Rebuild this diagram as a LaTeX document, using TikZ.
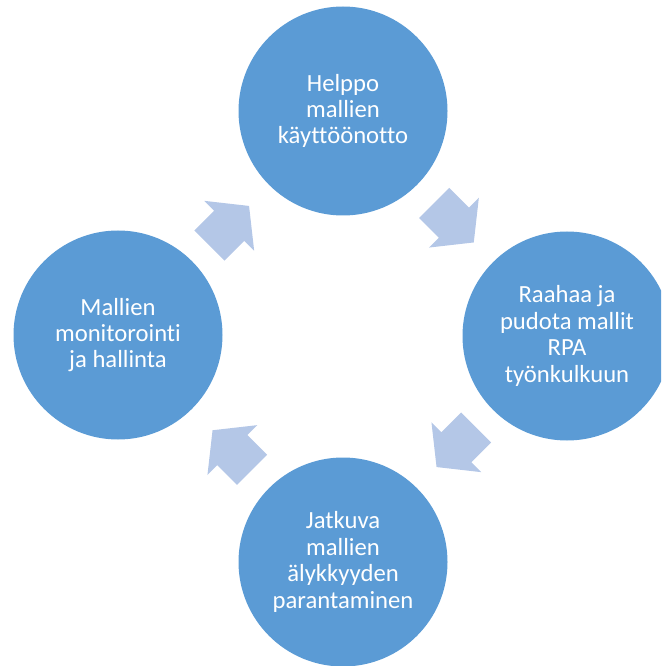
\documentclass[tikz,border=0pt]{standalone}
\usepackage{fontspec}
\setmainfont{Carlito}[Ligatures=NoCommon]
\usetikzlibrary{shapes.arrows}
\definecolor{stageblue}{HTML}{5B9BD5}
\definecolor{arrowblue}{HTML}{B4C7E7}
\begin{document}
\begin{tikzpicture}[
    x=0.75pt, y=-0.75pt,
    stage/.style={shape=circle, fill=stageblue, minimum size=156.75pt, inner sep=0pt, align=center, text=white, font=\fontsize{18.5}{19.8}\selectfont},
    cyclearrow/.style={single arrow, fill=arrowblue, inner xsep=0pt, inner ysep=15.75pt, minimum height=42pt, single arrow head extend=10.5pt, single arrow tip angle=103, anchor=tip},
  ]
    \clip (0,0) rectangle (661,666);

    \node[stage] (deploy) at (343,111) {Helppo\\mallien\\käyttöönotto};
    \node[stage] (drag) at (567,336) {Raahaa ja\\pudota mallit\\RPA\\työnkulkuun};
    \node[stage] (improve) at (343,562) {Jatkuva\\mallien\\älykkyyden\\parantaminen};
    \node[stage] (monitor) at (118,335) {Mallien\\monitorointi\\ja hallinta};

    \node[cyclearrow, rotate=-45] (a1) at (474,242.7) {};
    \node[cyclearrow, rotate=-135] (a2) at (436.3,467.3) {};
    \node[cyclearrow, rotate=135] (a3) at (212.3,430) {};
    \node[cyclearrow, rotate=45] (a4) at (249.3,205.7) {};

  \end{tikzpicture}
\end{document}
